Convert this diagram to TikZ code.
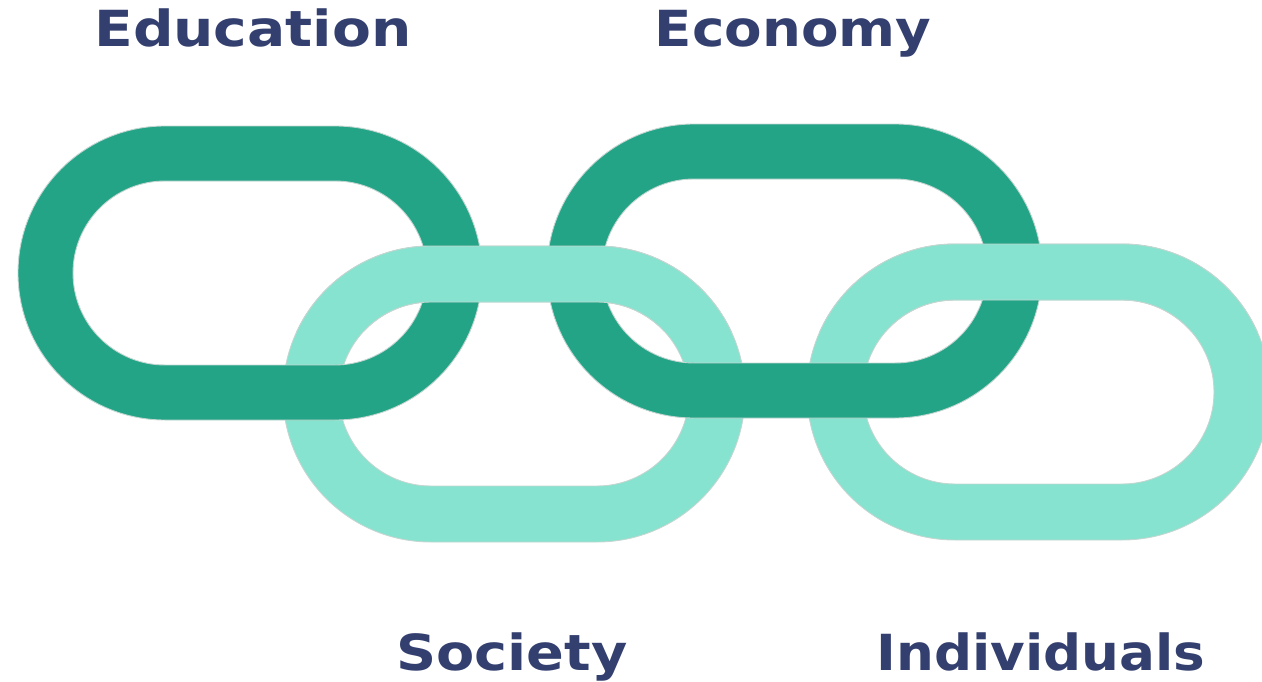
\documentclass[tikz,border=0pt]{standalone}
\usepackage{fontspec}
\newfontfamily\lblfont{DejaVu Sans}
\definecolor{darklink}{HTML}{23A487}
\definecolor{lightlink}{HTML}{85E3CF}
\definecolor{rim}{HTML}{C3D6D0}
\definecolor{lbltext}{HTML}{333F6E}
\tikzset{
  lbl/.style={font=\lblfont\bfseries\fontsize{28.3}{30}\selectfont, text=lbltext, anchor=base, inner sep=0pt},
  linkring/.style={even odd rule, draw=rim, line width=0.5pt}
}
% a link: left centre x, right centre x, centre y, outer r, inner r
\newcommand{\chainlink}[6]{%
  \path[linkring, fill=#6]
    (#1,#3-#4) -- (#2,#3-#4) arc (-90:90:#4) -- (#1,#3+#4) arc (90:270:#4) -- cycle
    (#1,#3-#5) -- (#2,#3-#5) arc (-90:90:#5) -- (#1,#3+#5) arc (90:270:#5) -- cycle;
}
\begin{document}
\begin{tikzpicture}[x=0.02cm, y=0.02cm]
  \useasboundingbox (0,0) rectangle (1262,681);
  \clip (0,0) rectangle (1262,681);
  % light links underneath
  \chainlink{431}{597}{287}{148}{92}{lightlink}
  \chainlink{955}{1122}{289}{148}{92}{lightlink}
  % dark links
  \chainlink{165}{335}{408}{147}{92}{darklink}
  \chainlink{694}{895}{410}{147}{92}{darklink}
  % upper half of the light links goes on top again
  \begin{scope}
    \clip (0,350) rectangle (1262,681);
    \chainlink{431}{597}{287}{148}{92}{lightlink}
    \chainlink{955}{1122}{289}{148}{92}{lightlink}
  \end{scope}
  \node[lbl, xscale=1.14] (edu) at (253,634) {Education};
  \node[lbl, xscale=1.10] (eco) at (793,634) {Economy};
  \node[lbl, xscale=1.12] (soc) at (512,11) {Society};
  \node[lbl, xscale=1.07] (ind) at (1041,11) {Individuals};
\end{tikzpicture}
\end{document}
